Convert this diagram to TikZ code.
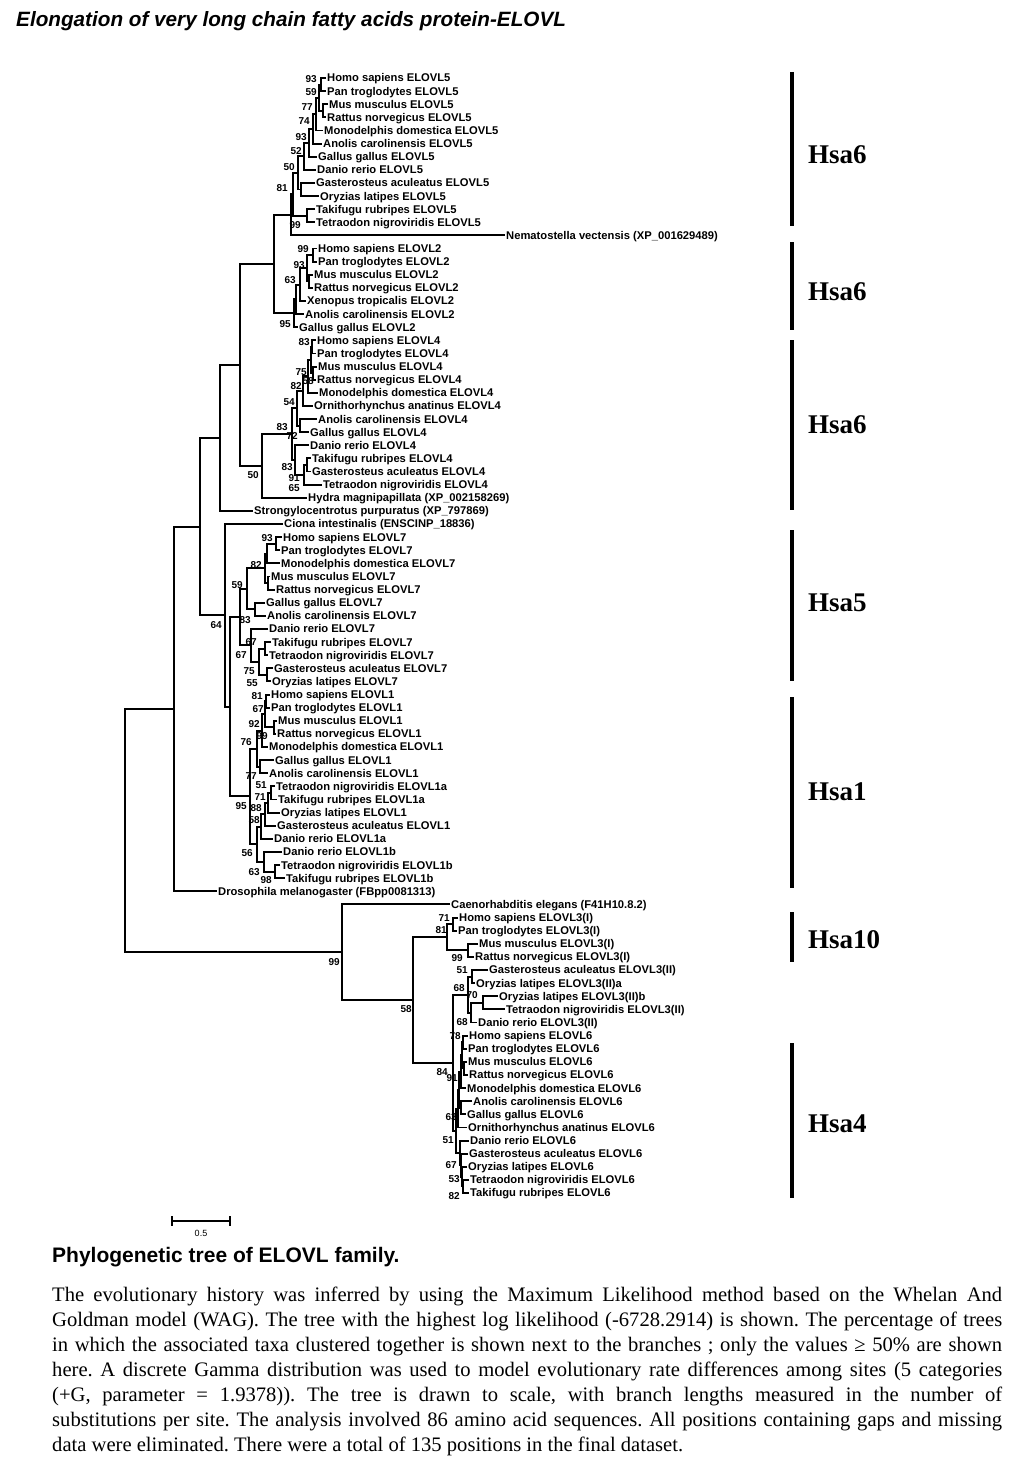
\documentclass[tikz,border=0pt]{standalone}
\usepackage{fontspec}
\setmainfont{Liberation Serif}
\newfontfamily\arial{Liberation Sans}
\usetikzlibrary{calc}
\frenchspacing
\tikzset{
  branch/.style={line width=1.9pt,line join=miter},
  leaf/.style={anchor=west,inner xsep=1pt,inner ysep=0pt,text height=7.9pt,text depth=0pt,
    font=\arial\bfseries\fontsize{11.2}{13}\selectfont},
  boot/.style={anchor=east,inner sep=0pt,text height=7.3pt,text depth=0pt,
    font=\arial\bfseries\fontsize{10}{12}\selectfont},
  hsabar/.style={line width=4pt},
  hsa/.style={anchor=west,inner sep=0pt,font=\bfseries\fontsize{27}{30}\selectfont},
}
% internal node at x=#2, halfway between first and last child, drawn as a bracket
\newcommand\clade[4]{\path let \p1=($(#3)!.5!(#4)$) in (#2pt,\y1) coordinate (#1);
  \draw[branch] (#3) -| (#1) |- (#4);}

\begin{document}
\begin{tikzpicture}[x=1pt,y=-1pt]
  \useasboundingbox (0,0) rectangle (1030,1469);
  \node[anchor=base west,inner sep=0pt,font=\arial\bfseries\itshape\fontsize{20.7}{24}\selectfont] (title) at (16,27)
    {Elongation of very long chain fatty acids protein-ELOVL};
  % taxa
  \foreach \lx/\lt [count=\i] in {326/Homo sapiens ELOVL5,326/Pan troglodytes ELOVL5,328/Mus musculus ELOVL5,
    326/Rattus norvegicus ELOVL5,323/Monodelphis domestica ELOVL5,322/Anolis carolinensis ELOVL5,
    317/Gallus gallus ELOVL5,316/Danio rerio ELOVL5,315/Gasterosteus aculeatus ELOVL5,319/Oryzias latipes ELOVL5,
    315/Takifugu rubripes ELOVL5,315/Tetraodon nigroviridis ELOVL5,505/Nematostella vectensis (XP\_001629489),
    317/Homo sapiens ELOVL2,317/Pan troglodytes ELOVL2,313/Mus musculus ELOVL2,313/Rattus norvegicus ELOVL2,
    306/Xenopus tropicalis ELOVL2,304/Anolis carolinensis ELOVL2,298/Gallus gallus ELOVL2,
    316/Homo sapiens ELOVL4,316/Pan troglodytes ELOVL4,317/Mus musculus ELOVL4,316/Rattus norvegicus ELOVL4,
    318/Monodelphis domestica ELOVL4,313/Ornithorhynchus anatinus ELOVL4,317/Anolis carolinensis ELOVL4,
    309/Gallus gallus ELOVL4,309/Danio rerio ELOVL4,311/Takifugu rubripes ELOVL4,311/Gasterosteus aculeatus ELOVL4,
    322/Tetraodon nigroviridis ELOVL4,307/Hydra magnipapillata (XP\_002158269),
    253/Strongylocentrotus purpuratus (XP\_797869),283/Ciona intestinalis (ENSCINP\_18836),
    282/Homo sapiens ELOVL7,280/Pan troglodytes ELOVL7,280/Monodelphis domestica ELOVL7,270/Mus musculus ELOVL7,
    275/Rattus norvegicus ELOVL7,265/Gallus gallus ELOVL7,266/Anolis carolinensis ELOVL7,268/Danio rerio ELOVL7,
    271/Takifugu rubripes ELOVL7,268/Tetraodon nigroviridis ELOVL7,273/Gasterosteus aculeatus ELOVL7,
    271/Oryzias latipes ELOVL7,270/Homo sapiens ELOVL1,270/Pan troglodytes ELOVL1,277/Mus musculus ELOVL1,
    276/Rattus norvegicus ELOVL1,268/Monodelphis domestica ELOVL1,274/Gallus gallus ELOVL1,
    268/Anolis carolinensis ELOVL1,275/Tetraodon nigroviridis ELOVL1a,277/Takifugu rubripes ELOVL1a,
    280/Oryzias latipes ELOVL1,276/Gasterosteus aculeatus ELOVL1,273/Danio rerio ELOVL1a,282/Danio rerio ELOVL1b,
    280/Tetraodon nigroviridis ELOVL1b,285/Takifugu rubripes ELOVL1b,217/Drosophila melanogaster (FBpp0081313),
    450/Caenorhabditis elegans (F41H10.8.2),458/Homo sapiens ELOVL3(I),457/Pan troglodytes ELOVL3(I),
    478/Mus musculus ELOVL3(I),474/Rattus norvegicus ELOVL3(I),488/Gasterosteus aculeatus ELOVL3(II),
    475/Oryzias latipes ELOVL3(II)a,498/Oryzias latipes ELOVL3(II)b,505/Tetraodon nigroviridis ELOVL3(II),
    477/Danio rerio ELOVL3(II),468/Homo sapiens ELOVL6,467/Pan troglodytes ELOVL6,467/Mus musculus ELOVL6,
    468/Rattus norvegicus ELOVL6,466/Monodelphis domestica ELOVL6,472/Anolis carolinensis ELOVL6,
    466/Gallus gallus ELOVL6,467/Ornithorhynchus anatinus ELOVL6,469/Danio rerio ELOVL6,
    468/Gasterosteus aculeatus ELOVL6,467/Oryzias latipes ELOVL6,469/Tetraodon nigroviridis ELOVL6,
    469/Takifugu rubripes ELOVL6}
    \node[leaf] (l\i) at (\lx,{78+13.118*(\i-1)}) {\lt};
  % bootstrap values
  \foreach \bx/\by/\bv [count=\j] in {317/79/93,317/92/59,313/107/77,310/121/74,307/137/93,302/151/52,295/167/50,
    288/188/81,301/225/99,309/249/99,305/265/93,296/280/63,291/324/95,310/342/83,307/372/75,302/386/82,314/381/58,
    295/402/54,288/427/83,298/436/72,293/467/83,300/478/91,300/488/65,259/475/50,222/625/64,273/538/93,262/565/82,
    243/585/59,251/620/83,257/642/67,247/655/67,255/671/75,258/683/55,263/696/81,264/709/67,260/724/92,268/736/99,
    252/742/76,257/776/77,267/785/51,266/797/71,247/806/95,262/808/88,260/820/58,253/853/56,260/872/63,272/880/98,
    340/962/99,412/1009/58,450/918/71,447/930/81,463/958/99,468/970/51,465/988/68,478/995/70,468/1022/68,
    461/1036/78,448/1072/84,458/1078/91,457/1117/63,454/1140/51,457/1165/67,460/1179/53,460/1196/82}
    \node[boot] (b\j) at (\bx,\by) {\bv};
  % ELOVL5, ELOVL2
  \clade{n5a}{321}{l1.west}{l2.west}  \clade{n5b}{323}{l3.west}{l4.west}
  \clade{n5c}{319}{n5a}{n5b}          \clade{n5d}{316}{n5c}{l5.west}
  \clade{n5e}{313}{n5d}{l6.west}      \clade{n5f}{309}{n5e}{l7.west}
  \clade{n5g}{304}{n5f}{l8.west}      \clade{n5h}{301}{l9.west}{l10.west}
  \clade{n5i}{298}{n5g}{n5h}          \clade{n5j}{307}{l11.west}{l12.west}
  \clade{n5k}{293}{n5i}{n5j}          \clade{nH}{291}{n5k}{l13.west}
  \clade{n2a}{313}{l14.west}{l15.west} \clade{n2m}{309}{l16.west}{l17.west}
  \clade{n2b}{307}{n2a}{n2m}          \clade{n2c}{300}{n2b}{l18.west}
  \clade{n2d}{296}{n2c}{l19.west}     \clade{n2e}{294}{n2d}{l20.west}
  \clade{nF}{274}{nH}{n2e}
  % ELOVL4
  \clade{n4a}{312}{l21.west}{l22.west} \clade{n4m}{313}{l23.west}{l24.west}
  \clade{n4b}{311}{n4a}{n4m}          \clade{n4c}{308}{n4b}{l25.west}
  \clade{n4d}{303}{n4c}{l26.west}     \clade{n4e}{300}{l27.west}{l28.west}
  \clade{n4f}{297}{n4d}{n4e}          \clade{n4g}{307}{l30.west}{l31.west}
  \clade{n4h}{304}{n4g}{l32.west}     \clade{n4i}{295}{l29.west}{n4h}
  \clade{n4j}{292}{n4f}{n4i}          \clade{nG}{262}{n4j}{l33.west}
  \clade{nE}{240}{nF}{nG}             \clade{nC}{220}{nE}{l34.west}
  % ELOVL7
  \clade{n7a}{276}{l36.west}{l37.west} \clade{n7b}{267}{n7a}{l38.west}
  \clade{n7c}{268}{l39.west}{l40.west} \clade{n7d}{265}{n7b}{n7c}
  \clade{n7f}{255}{l41.west}{l42.west} \clade{n7e}{247}{n7d}{n7f}
  \clade{n7h}{265}{l44.west}{l45.west} \clade{n7i}{267}{l46.west}{l47.west}
  \clade{n7j}{259}{n7h}{n7i}          \clade{n7k}{251}{l43.west}{n7j}
  \clade{n7l}{240}{n7e}{n7k}
  % ELOVL1
  \clade{n1a}{266}{l48.west}{l49.west} \clade{n1m}{274}{l50.west}{l51.west}
  \clade{n1b}{265}{n1a}{n1m}          \clade{n1c}{262}{n1b}{l52.west}
  \clade{n1d}{260}{l53.west}{l54.west} \clade{n1e}{257}{n1c}{n1d}
  \clade{n1f}{271}{l55.west}{l56.west} \clade{n1g}{268}{n1f}{l57.west}
  \clade{n1h}{265}{n1g}{l58.west}     \clade{n1i}{261}{n1h}{l59.west}
  \clade{n1j}{275}{l61.west}{l62.west} \clade{n1k}{264}{l60.west}{n1j}
  \clade{n1l}{257}{n1i}{n1k}          \clade{n1r}{250}{n1e}{n1l}
  \clade{nX}{230}{n7l}{n1r}           \clade{nD}{225}{l35.west}{nX}
  \clade{nB}{200}{nC}{nD}             \clade{nA}{174}{nB}{l63.west}
  % ELOVL3, ELOVL6
  \clade{n3a}{453}{l65.west}{l66.west} \clade{n3b}{468}{l67.west}{l68.west}
  \clade{n3c}{447}{n3a}{n3b}          \clade{n3f}{472}{l69.west}{l70.west}
  \clade{n3g}{483}{l71.west}{l72.west} \clade{n3h}{471}{n3g}{l73.west}
  \clade{n3i}{468}{n3f}{n3h}
  \clade{t1}{463}{l74.west}{l75.west} \clade{t2}{464}{l76.west}{l77.west}
  \clade{t3}{462}{t1}{t2}             \clade{t4}{461}{t3}{l78.west}
  \clade{t5}{461}{l79.west}{l80.west} \clade{t6}{459}{t4}{t5}
  \clade{t7}{458}{t6}{l81.west}
  \clade{f1}{463}{l85.west}{l86.west} \clade{f2}{462}{l84.west}{f1}
  \clade{f3}{461}{l83.west}{f2}       \clade{f4}{460}{l82.west}{f3}
  \clade{n6r}{456}{t7}{f4}            \clade{n36}{453}{n3i}{n6r}
  \clade{nY}{413}{n3c}{n36}           \clade{nZ}{342}{l64.west}{nY}
  \clade{nR}{125}{nA}{nZ}
  % human chromosome bars
  \foreach \ya/\yb/\yc/\hs [count=\k] in {72/226/155/Hsa6,242/330/292/Hsa6,340/510/425/Hsa6,530/681/603/Hsa5,
    697/888/792/Hsa1,912/962/940/Hsa10,1043/1198/1124/Hsa4}{
    \draw[hsabar] (792,\ya) -- (792,\yb);
    \node[hsa] (h\k) at (808,\yc) {\hs};}
  % scale bar
  \coordinate (s0) at (172,1221); \coordinate (s1) at (230,1221);
  \draw[line width=2.5pt] (s0) -- (s1);
  \draw[line width=1.6pt] ([yshift=5pt]s0) -- ([yshift=-5pt]s0) ([yshift=5pt]s1) -- ([yshift=-5pt]s1);
  \node[inner sep=0pt,font=\arial\fontsize{9}{10}\selectfont] (sl) at (201,1233) {0.5};
  \node[anchor=base west,inner sep=0pt,font=\arial\bfseries\fontsize{21}{24}\selectfont] (cap) at (52,1262)
    {Phylogenetic tree of ELOVL family.};
  \node[anchor=north west,inner sep=0pt,text width=950pt,align=justify,font=\fontsize{20.6}{25}\selectfont] (txt) at (52,1287)
    {The evolutionary history was inferred by using the Maximum Likelihood method based on the Whelan And\linebreak
    Goldman model (WAG). The tree with the highest log likelihood (-6728.2914) is shown. The percentage of trees\linebreak
    in which the associated taxa clustered together is shown next to the branches ; only the values ≥ 50\% are shown\linebreak
    here. A discrete Gamma distribution was used to model evolutionary rate differences among sites (5 categories\linebreak
    (+G, parameter = 1.9378)). The tree is drawn to scale, with branch lengths measured in the number of\linebreak
    substitutions per site. The analysis involved 86 amino acid sequences. All positions containing gaps and missing\linebreak
    data were eliminated. There were a total of 135 positions in the final dataset.};
\end{tikzpicture}
\end{document}
